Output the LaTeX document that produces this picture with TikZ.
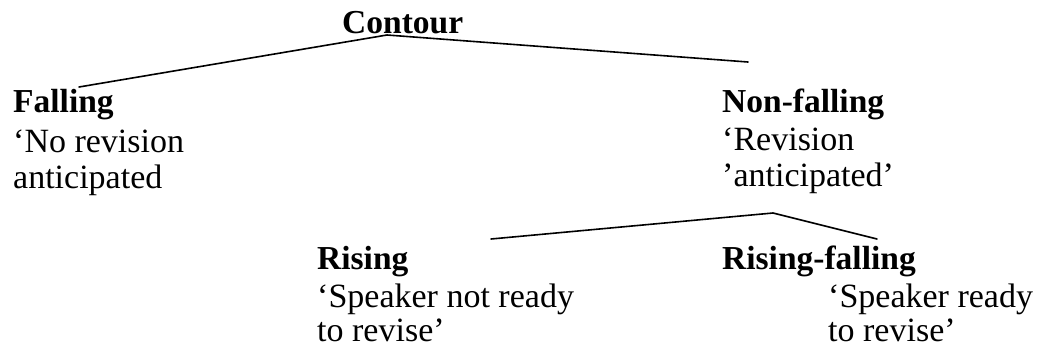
\documentclass[tikz,border=0pt]{standalone}
\usepackage{fontspec}
\setmainfont{Liberation Serif}
\begin{document}
\begin{tikzpicture}[x=1pt,y=-1pt,
  txt/.style={anchor=base west,inner sep=0pt,font=\fontsize{34}{37}\selectfont},
  head/.style={txt,font=\fontsize{33.5}{37}\selectfont\bfseries},
  branch/.style={line width=1.6pt,line join=round,line cap=round}]
\useasboundingbox (0,0) rectangle (1039,357);

% root
\node[head] (contour) at (342,33) {Contour};

% first level
\node[head] (falling) at (13,112) {Falling};
\node[txt] (fall1) at (13,152) {‘No revision};
\node[txt] (fall2) at (13,188) {anticipated};

\node[head] (nonfalling) at (722,112) {Non-falling};
\node[txt] (nonf1) at (722,150) {‘Revision};
\node[txt] (nonf2) at (722,186) {’anticipated’};

% second level
\node[head] (rising) at (317,269) {Rising};
\node[txt] (ris1) at (317,307) {‘Speaker not ready};
\node[txt] (ris2) at (317,341) {to revise’};

\node[head] (risfall) at (722,269) {Rising-falling};
\node[txt] (rf1) at (828,307) {‘Speaker ready};
\node[txt] (rf2) at (828,341) {to revise’};

% branch points (shifts are in page direction: positive yshift is upward)
\coordinate (top) at ([xshift=45pt,yshift=-2pt]contour.base west);
\coordinate (toFalling) at ([xshift=66pt,yshift=25pt]falling.base west);
\coordinate (toNonfalling) at ([xshift=26pt,yshift=50pt]nonfalling.base west);
\coordinate (mid) at ([xshift=51pt,yshift=-27pt]nonf2.base west);
\coordinate (toRising) at ([xshift=174pt,yshift=30pt]rising.base west);
\coordinate (toRisfall) at ([xshift=155pt,yshift=30pt]risfall.base west);

\draw[branch] (toFalling) -- (top) -- (toNonfalling);
\draw[branch] (toRising) -- (mid) -- (toRisfall);
\end{tikzpicture}
\end{document}
